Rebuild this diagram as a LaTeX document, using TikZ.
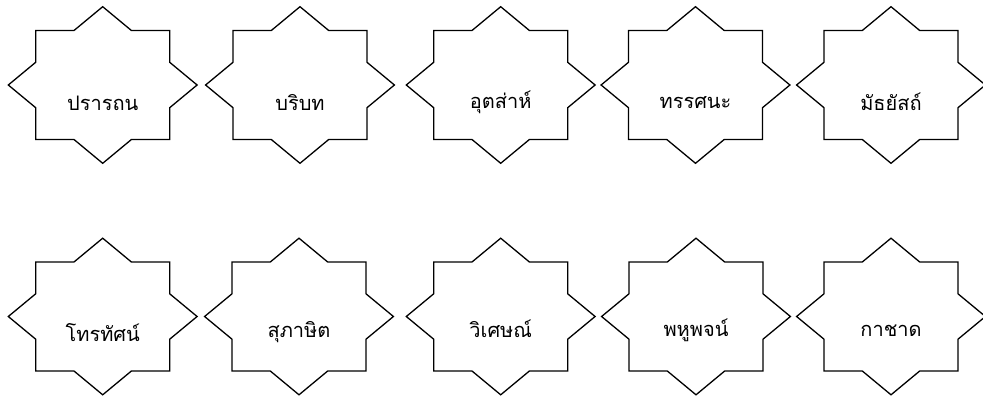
\documentclass[tikz,border=0pt]{standalone}
\usepackage{fontspec}
\newfontfamily\thaifont[Script=Thai]{Loma}
\usetikzlibrary{calc}
\tikzset{
  lbl/.style={font=\thaifont\fontsize{20}{22}\selectfont, inner sep=0pt, anchor=center},
  starline/.style={draw=black, line width=1.3pt, line join=miter},
}
\newcommand{\mystar}[1]{%
  \draw[starline] ($(#1)+(0,-78.3)$) -- ++(28.7,23.8) -- ++(38.3,0) -- ++(0,31.8) -- ++(27.4,22.7)
   -- ++(-27.4,22.7) -- ++(0,31.8) -- ++(-38.3,0) -- ++(-28.7,23.8) -- ++(-28.7,-23.8) -- ++(-38.3,0)
   -- ++(0,-31.8) -- ++(-27.4,-22.7) -- ++(27.4,-22.7) -- ++(0,-31.8) -- ++(38.3,0) -- cycle;}
\begin{document}
\begin{tikzpicture}[x=1pt,y=-1pt]
\useasboundingbox (0,0) rectangle (983,396);
\foreach \n/\x/\y in {a/102.7/85, b/300/85, c/500.7/85, d/695.5/85, e/891/85,
                      f/102.7/316.5, g/299/316.5, h/500.7/316.5, i/696/316.5, j/891/316.5}{
  \coordinate (c\n) at (\x,\y);
  \mystar{c\n}
}
\node[lbl] (ta) at ($(ca)+(0,18)$) {ปรารถน};
\node[lbl] (tb) at ($(cb)+(0,18)$) {บริบท};
\node[lbl] (tc) at ($(cc)+(0,17)$) {อุตส่าห์};
\node[lbl] (td) at ($(cd)+(0,18)$) {ทรรศนะ};
\node[lbl] (te) at ($(ce)+(0,17)$) {มัธยัสถ์};
\node[lbl] (tf) at ($(cf)+(0,16)$) {โทรทัศน์};
\node[lbl] (tg) at ($(cg)+(0,16)$) {สุภาษิต};
\node[lbl] (th) at ($(ch)+(0,12)$) {วิเศษณ์};
\node[lbl] (ti) at ($(ci)+(0,14)$) {พหูพจน์};
\node[lbl] (tj) at ($(cj)+(0,14)$) {กาชาด};
\end{tikzpicture}
\end{document}
